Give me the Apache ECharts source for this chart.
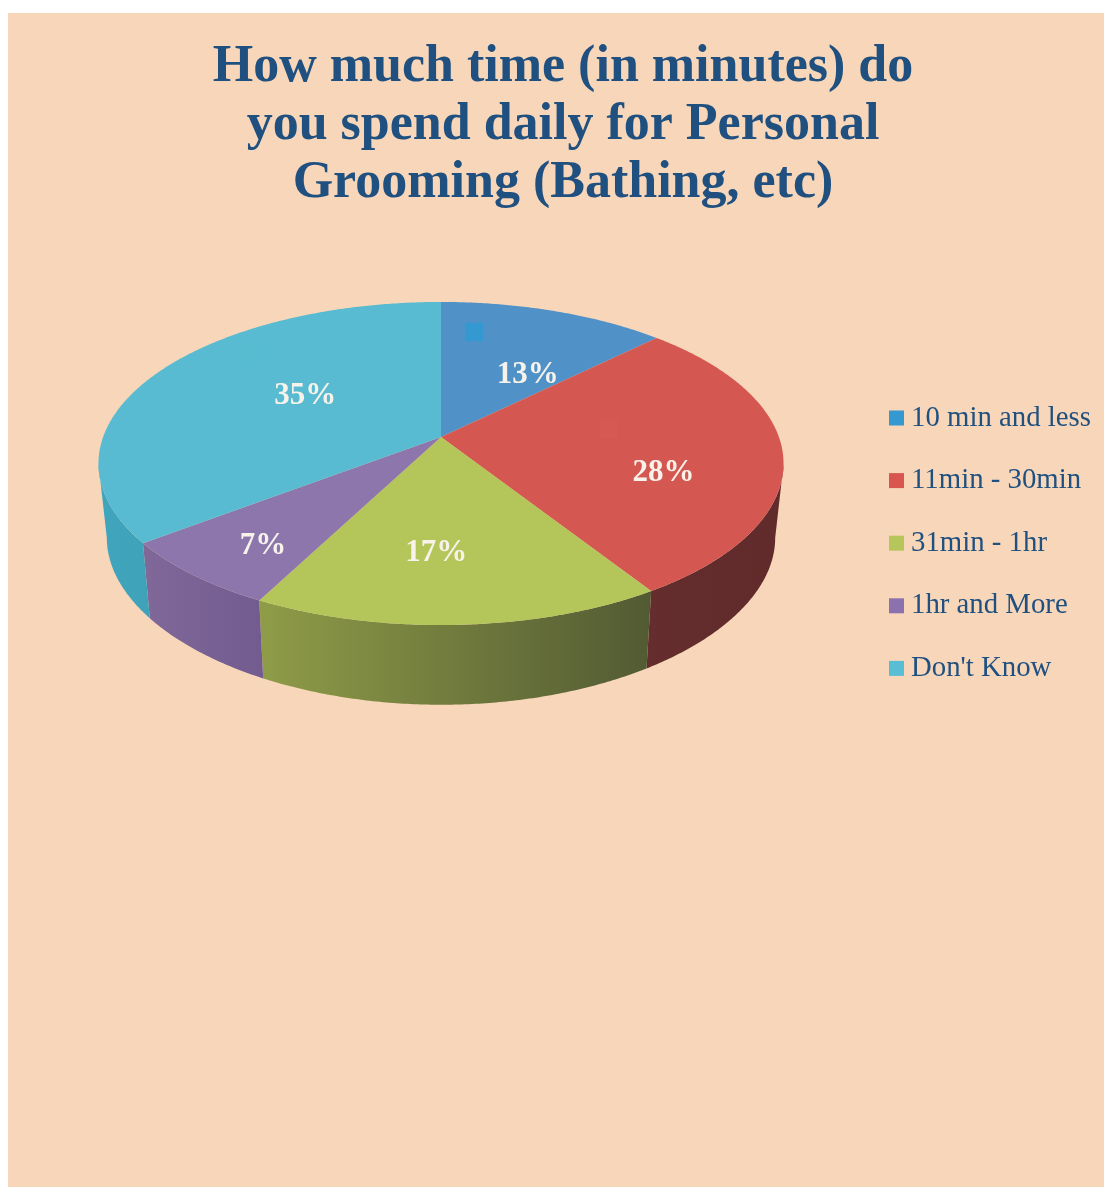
<!DOCTYPE html>
<html><head><meta charset="utf-8">
<style>html,body{margin:0;padding:0;background:#fff}#c{width:1104px;height:1187px}</style>
<script src="https://cdn.jsdelivr.net/npm/echarts@6/dist/echarts.min.js"></script>
</head><body><div id="c"></div>
<script>
const categories = ["10 min and less", "11min - 30min", "31min - 1hr", "1hr and More", "Don't Know"];
const shares = [12.6, 28.4, 16.6, 7.0, 35.4];
const titleLines = ["How much time (in minutes) do", "you spend daily for Personal", "Grooming (Bathing, etc)"];

const topColors = ["#5092c8", "#d55752", "#b4c55a", "#8c76ac", "#58bbd1"];
const keyColors = ["#3399d0", "#d95650", "#b6c65a", "#8b72ae", "#58bed5"];
const wallColors = [["#3f74a0", "#3f74a0"], ["#652d2d", "#612b2b"], ["#8f9c47", "#525a33"], ["#806899", "#725b8f"], ["#40a6bd", "#3fa2b9"]];
const labelNudge = [[13, 20], [12, 25], [-15, 8], [-32, 28], [44, 0]];

const PEACH = "#f8d6b9", NAVY = "#1f507f", SERIF = "'Liberation Serif', serif";
const CX = 441, CY = 437, A = 337.9, B = 157.2, P = 0.164;
const WALL_Y = 511, WALL_A = 329.5, WALL_B = 155, WALL_PX = 0.167, WALL_PY = 0.2;
const VIS_FROM = 99.6, VIS_TO = 260.4, LABEL_R = 0.62;
const total = shares.reduce((a, b) => a + b, 0);
const rad = d => d * Math.PI / 180;

function topPt(deg, r) {
  const u = Math.sin(rad(deg)) * r, v = -Math.cos(rad(deg)) * r, w = 1 - P * v;
  return [CX + A * u / w, CY + B * v / w];
}
function wallPt(deg) {
  const u = Math.sin(rad(deg)), v = -Math.cos(rad(deg));
  return [CX + WALL_A * u / (1 - WALL_PX * v), WALL_Y + WALL_B * v / (1 - WALL_PY * v)];
}
function arc(fn, a, b) {
  const pts = [];
  const n = Math.max(2, Math.ceil(Math.abs(b - a) * 2));
  for (let i = 0; i <= n; i++) pts.push(fn(a + (b - a) * i / n));
  return pts;
}
function sliceRender(idx) {
  return function (params, api) {
    const value = api.value(0);
    const before = shares.slice(0, idx).reduce((a, b) => a + b, 0);
    const a0 = before / total * 360, a1 = (before + value) / total * 360;
    const children = [];
    const s = Math.max(a0, VIS_FROM), e = Math.min(a1, VIS_TO);
    if (e > s) {
      const t = arc(d => topPt(d, 1), s, e);
      const b = arc(wallPt, e, s);
      const xs = t.concat(b).map(p => p[0]);
      children.push({
        type: "polygon",
        shape: { points: t.concat(b) },
        style: {
          fill: new echarts.graphic.LinearGradient(Math.min(...xs), 0, Math.max(...xs), 0,
            [{ offset: 0, color: wallColors[idx][0] }, { offset: 1, color: wallColors[idx][1] }], true)
        }
      });
    }
    children.push({
      type: "polygon",
      shape: { points: [[CX, CY]].concat(arc(d => topPt(d, 1), a0, a1)) },
      style: { fill: topColors[idx] }
    });
    const mid = topPt((a0 + a1) / 2, LABEL_R);
    children.push({
      type: "text",
      z2: 10,
      style: {
        x: mid[0] + labelNudge[idx][0], y: mid[1] + labelNudge[idx][1],
        text: Math.round(value) + "%",
        align: "center", verticalAlign: "middle",
        fill: "#f7f2ea", font: "bold 31px " + SERIF
      }
    });
    return { type: "group", children };
  };
}

const chart = echarts.init(document.getElementById("c"), null, { renderer: "canvas", width: 1104, height: 1187 });
chart.setOption({
  animation: false,
  backgroundColor: "#ffffff",
  title: {
    text: titleLines.join("\n"),
    left: 558, top: 34, textAlign: "center",
    textStyle: { color: NAVY, fontFamily: SERIF, fontWeight: "bold", fontSize: 52, lineHeight: 58 }
  },
  legend: {
    orient: "vertical", left: 889, top: 401, itemGap: 28.6, itemWidth: 15, itemHeight: 15, icon: "rect",
    padding: 0,
    textStyle: { color: NAVY, fontFamily: SERIF, fontSize: 28.8, lineHeight: 30, padding: [4, 0, 0, 2] },
    data: categories.map((n, i) => ({ name: n, itemStyle: { color: keyColors[i] } }))
  },
  graphic: [
    { type: "rect", z: -10, silent: true, shape: { x: 8, y: 13, width: 1096, height: 1174 }, style: { fill: PEACH } },
    { type: "rect", z: 10, silent: true, shape: { x: 465, y: 323, width: 18, height: 18 }, style: { fill: keyColors[0] } },
    { type: "rect", z: 10, silent: true, shape: { x: 600, y: 420, width: 18, height: 18 }, style: { fill: "#d65953" } },
    { type: "rect", z: 10, silent: true, shape: { x: 240, y: 345, width: 19, height: 18 }, style: { fill: "#58bcd0" } }
  ],
  series: categories.map((n, i) => ({
    type: "custom",
    name: n,
    coordinateSystem: "none",
    itemStyle: { color: keyColors[i] },
    renderItem: sliceRender(i),
    data: [[shares[i]]],
    z: 2
  }))
});
</script></body></html>
